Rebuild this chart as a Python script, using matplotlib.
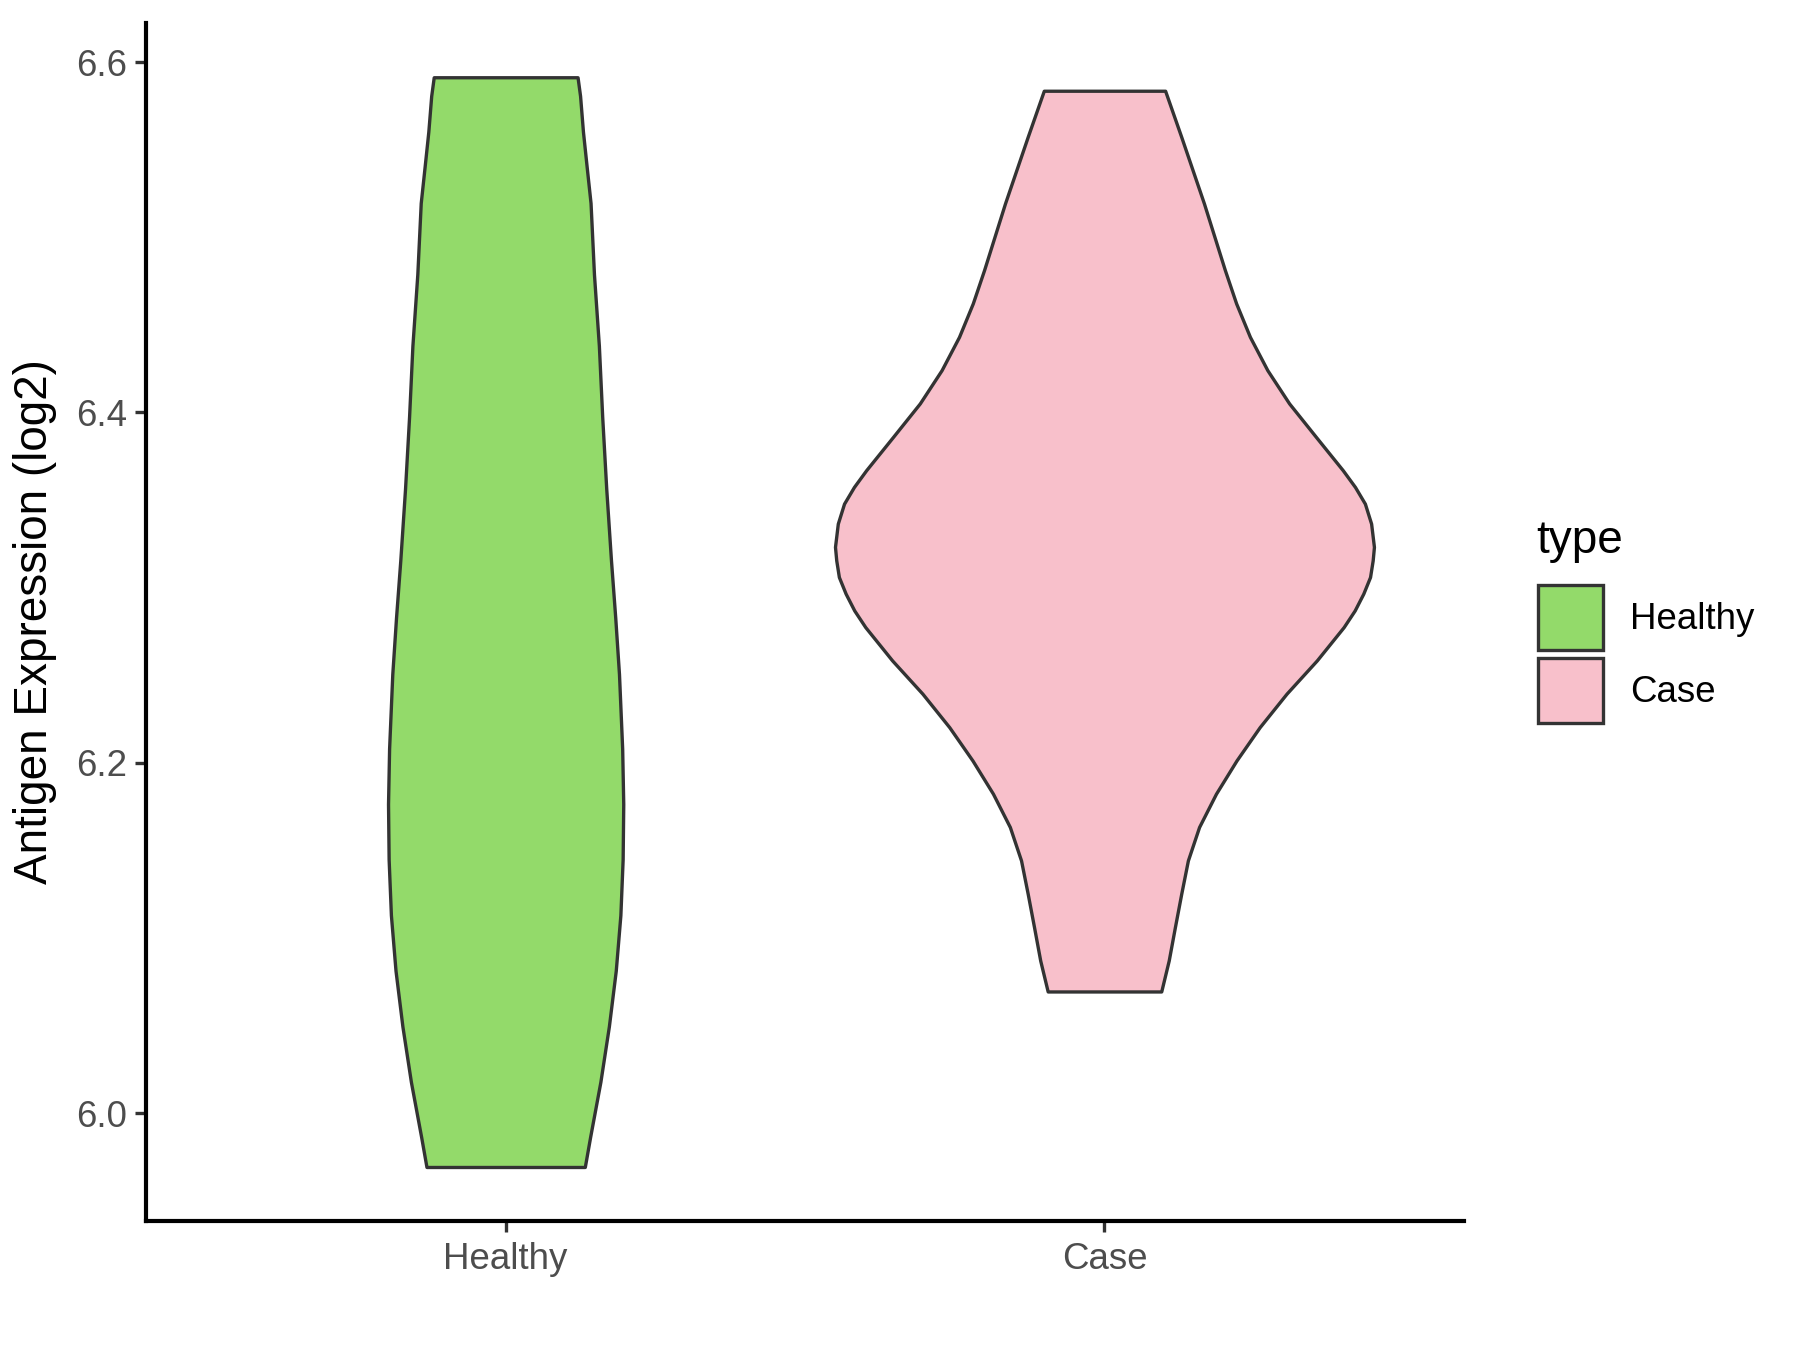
import numpy as np
import matplotlib
matplotlib.use("Agg")
import matplotlib.pyplot as plt
from matplotlib.patches import Patch

plt.rcParams["font.family"] = ["Liberation Sans", "DejaVu Sans"]

# violin outlines: expression level and half-width (in x units)
groups = ["Healthy", "Case"]
colors = ["#93DA6A", "#F8C0CB"]

healthy_y = [6.5913, 6.5807, 6.5603, 6.5399, 6.5195, 6.4788, 6.4380, 6.3972,
             6.3564, 6.3156, 6.2830, 6.2505, 6.2081, 6.1764, 6.1449, 6.1130,
             6.0813, 6.0495, 6.0178, 5.9862, 5.9692]
healthy_w = [0.1201, 0.1243, 0.1291, 0.1354, 0.1418, 0.1475, 0.1557, 0.1613,
             0.1680, 0.1759, 0.1830, 0.1893, 0.1946, 0.1964, 0.1954, 0.1916,
             0.1839, 0.1724, 0.1582, 0.1410, 0.1322]

case_y = [6.5836, 6.5573, 6.5193, 6.4812, 6.4622, 6.4431, 6.4241, 6.4051,
          6.3860, 6.3670, 6.3574, 6.3479, 6.3365, 6.3232, 6.3155, 6.3060,
          6.2965, 6.2869, 6.2774, 6.2584, 6.2394, 6.2203, 6.2013, 6.1823,
          6.1633, 6.1442, 6.1252, 6.1061, 6.0871, 6.0694]
case_w = [0.1013, 0.1282, 0.1661, 0.2011, 0.2199, 0.2429, 0.2720, 0.3084,
          0.3531, 0.3979, 0.4184, 0.4349, 0.4453, 0.4500, 0.4479, 0.4435,
          0.4322, 0.4178, 0.3994, 0.3546, 0.3040, 0.2592, 0.2205, 0.1862,
          0.1580, 0.1393, 0.1282, 0.1176, 0.1073, 0.0948]

yticks = [6.0, 6.2, 6.4, 6.6]

fig = plt.figure(figsize=(6, 4.5), dpi=300)
ax = fig.add_axes([0.0813, 0.0956, 0.8132 - 0.0813, 0.983 - 0.0956])

outline = "#333333"
for i, (ys, ws) in enumerate([(healthy_y, healthy_w), (case_y, case_w)]):
    ys = np.array(ys)
    ws = np.array(ws)
    pos = i + 1
    ax.fill_betweenx(ys, pos - ws, pos + ws, facecolor=colors[i],
                     edgecolor=outline, linewidth=0.8, joinstyle="round")

ax.set_xlim(0.4, 2.6)
ax.set_ylim(5.9384, 6.6223)
ax.set_xticks([1, 2])
ax.set_xticklabels(groups)
ax.set_yticks(yticks)
ax.set_yticklabels([f"{v:.1f}" for v in yticks])

for side in ["top", "right"]:
    ax.spines[side].set_visible(False)
for side in ["left", "bottom"]:
    ax.spines[side].set_linewidth(1.0)
    ax.spines[side].set_color("black")
    ax.spines[side].set_capstyle("projecting")

ax.tick_params(axis="both", length=2.75, width=0.8, color="#333333",
               labelsize=8.8, labelcolor="#4D4D4D")
ax.tick_params(axis="y", pad=1.8)
ax.tick_params(axis="x", pad=2.2)

ax.set_ylabel("Antigen Expression (log2)", fontsize=11, color="black")
ax.yaxis.set_label_coords(-0.0678, 0.5)

# legend: title as separate text, keys placed below it
fig.text(1536 / 1800, 1 - 553 / 1350, "type", fontsize=11, color="black",
         ha="left", va="baseline")
handles = [Patch(facecolor=c, edgecolor=outline, linewidth=0.8) for c in colors]
leg = fig.legend(handles, groups, loc="upper left",
                 bbox_to_anchor=(1538 / 1800, 1 - 585 / 1350),
                 frameon=False, fontsize=8.8,
                 handlelength=1.77, handleheight=2.37, handletextpad=0.75,
                 labelspacing=0.2, borderpad=0, borderaxespad=0)

fig.savefig("out.png", dpi=300)
